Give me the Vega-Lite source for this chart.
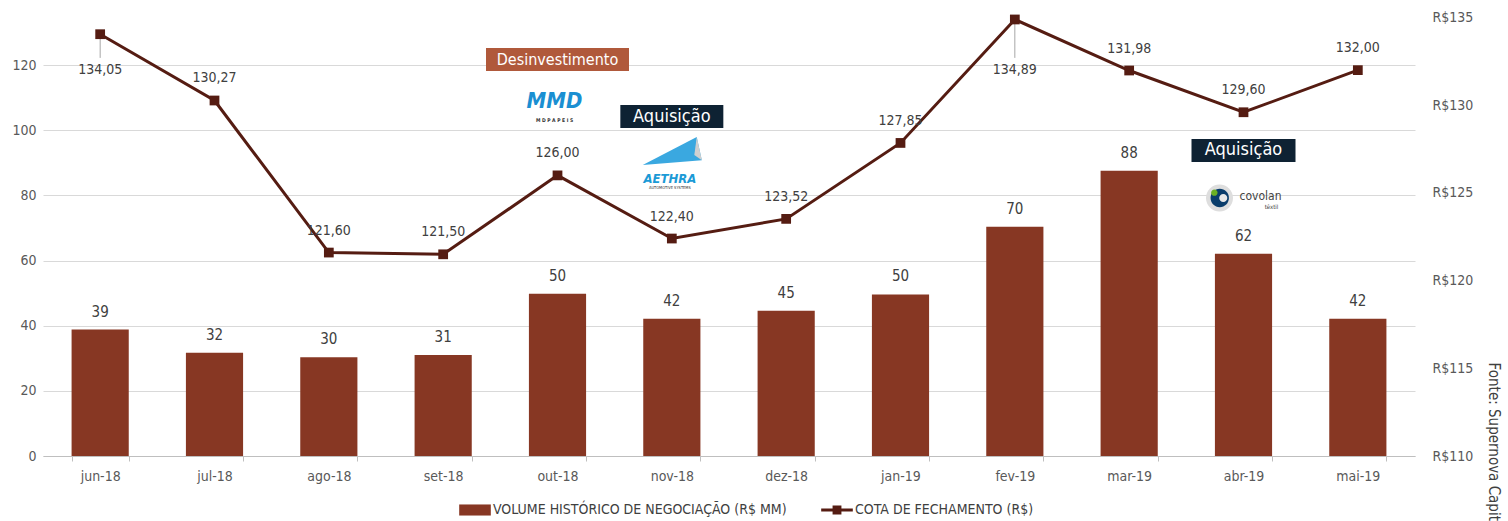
{
  "$schema": "https://vega.github.io/schema/vega-lite/v6.json",
  "width": 1372,
  "height": 456,
  "autosize": {"type": "none"},
  "padding": {"left": 43, "top": 0, "right": 93, "bottom": 65},
  "background": "white",
  "datasets": {
    "dados": [
      {"mes": "jun-18", "volume": 38.8, "cota": 134.05},
      {"mes": "jul-18", "volume": 31.7, "cota": 130.27},
      {"mes": "ago-18", "volume": 30.3, "cota": 121.60},
      {"mes": "set-18", "volume": 31.0, "cota": 121.50},
      {"mes": "out-18", "volume": 49.8, "cota": 126.00},
      {"mes": "nov-18", "volume": 42.1, "cota": 122.40},
      {"mes": "dez-18", "volume": 44.6, "cota": 123.52},
      {"mes": "jan-19", "volume": 49.6, "cota": 127.85},
      {"mes": "fev-19", "volume": 70.4, "cota": 134.89},
      {"mes": "mar-19", "volume": 87.6, "cota": 131.98},
      {"mes": "abr-19", "volume": 62.1, "cota": 129.60},
      {"mes": "mai-19", "volume": 42.1, "cota": 132.00}
    ]
  },
  "title": {
    "text": "Fonte: Supernova Capital",
    "orient": "right",
    "anchor": "end",
    "frame": "bounds",
    "fontSize": 15,
    "fontWeight": "normal",
    "color": "#404040",
    "offset": 13,
    "dx": 16
  },
  "config": {
    "font": "Liberation Sans Narrow, DejaVu Sans Condensed, sans-serif",
    "view": {"stroke": null},
    "locale": {"number": {"decimal": ",", "thousands": ".", "grouping": [3], "currency": ["R$", ""]}},
    "axisX": {"labelAngle": 0, "tickBand": "extent", "domainColor": "#bfbfbf", "tickColor": "#bfbfbf", "tickSize": 5, "labelPadding": 8, "labelFontSize": 14, "labelColor": "#595959", "grid": false},
    "axisLeft": {"domain": false, "ticks": false, "labelPadding": 7, "grid": true, "gridColor": "#d9d9d9", "labelFontSize": 14, "labelColor": "#595959"},
    "axisRight": {"domain": false, "ticks": false, "grid": false, "labelPadding": 17, "labelFontSize": 14, "labelColor": "#595959"}
  },
  "layer": [
    {
      "layer": [
        {
          "data": {"name": "dados"},
          "mark": {"type": "bar", "color": "#873723"},
          "encoding": {
            "x": {
              "field": "mes", "type": "nominal", "sort": null,
              "scale": {"domain": ["jun-18","jul-18","ago-18","set-18","out-18","nov-18","dez-18","jan-19","fev-19","mar-19","abr-19","mai-19"], "paddingInner": 0.5, "paddingOuter": 0.25},
              "axis": {"title": null}
            },
            "y": {
              "field": "volume", "type": "quantitative",
              "scale": {"domain": [0, 140], "nice": false},
              "axis": {"title": null, "orient": "left", "values": [0, 20, 40, 60, 80, 100, 120]}
            },
            "color": {
              "datum": "VOLUME HISTÓRICO DE NEGOCIAÇÃO (R$ MM)",
              "scale": {"domain": ["VOLUME HISTÓRICO DE NEGOCIAÇÃO (R$ MM)", "COTA DE FECHAMENTO (R$)"], "range": ["#873723", "#551c12"]},
              "legend": {
                "orient": "none", "legendX": 416, "legendY": 494,
                "direction": "horizontal", "title": null,
                "labelFontSize": 14, "labelColor": "#404040", "labelLimit": 0, "symbolSize": 1000,
                "columnPadding": 34, "labelOffset": 2,
                "encode": {
                  "symbols": {
                    "update": {
                      "shape": {"signal": "datum.value === 'COTA DE FECHAMENTO (R$)' ? 'M-1,-0.095H-0.28V-0.28H0.28V-0.095H1V0.095H0.28V0.28H-0.28V0.095H-1Z' : 'M-1,-0.35H1V0.35H-1Z'"},
                      "fill": {"signal": "datum.value === 'COTA DE FECHAMENTO (R$)' ? '#551c12' : '#873723'"},
                      "stroke": {"value": "transparent"},
                      "strokeWidth": {"value": 0},
                      "opacity": {"value": 1},
                      "fillOpacity": {"value": 1}
                    }
                  }
                }
              }
            }
          }
        },
        {
          "data": {"name": "dados"},
          "mark": {"type": "text", "baseline": "middle", "dy": -18, "fontSize": 15, "color": "#404040"},
          "encoding": {
            "x": {"field": "mes", "type": "nominal", "sort": null, "axis": {"title": null}},
            "y": {"field": "volume", "type": "quantitative", "axis": {"title": null, "orient": "left"}},
            "text": {"field": "volume", "type": "quantitative", "format": ".0f"}
          }
        },
        {
          "data": {"values": [{"mes": "out-18", "rotulo": "Desinvestimento"}]},
          "layer": [
            {
              "mark": {"type": "bar", "width": 143, "color": "#b0593b"},
              "encoding": {
                "x": {"field": "mes", "type": "nominal", "sort": null, "axis": {"title": null}},
                "y": {"datum": 125.3, "type": "quantitative", "axis": {"title": null, "orient": "left"}},
                "y2": {"datum": 118.2}
              }
            },
            {
              "mark": {"type": "text", "baseline": "middle", "fontSize": 16, "color": "white"},
              "encoding": {
                "x": {"field": "mes", "type": "nominal", "sort": null, "axis": {"title": null}},
                "y": {"datum": 121.7, "type": "quantitative", "axis": {"title": null, "orient": "left"}},
                "text": {"field": "rotulo"}
              }
            },
            {
              "mark": {"type": "text", "baseline": "middle", "fontSize": 22, "fontWeight": "bold", "fontStyle": "italic", "color": "#1a8fd2", "dx": -3},
              "encoding": {
                "x": {"field": "mes", "type": "nominal", "sort": null, "axis": {"title": null}},
                "y": {"datum": 109.0, "type": "quantitative", "axis": {"title": null, "orient": "left"}},
                "text": {"value": "MMD"}
              }
            },
            {
              "mark": {"type": "text", "baseline": "middle", "fontSize": 5, "fontWeight": "bold", "color": "#333333", "dx": -3},
              "encoding": {
                "x": {"field": "mes", "type": "nominal", "sort": null, "axis": {"title": null}},
                "y": {"datum": 103.3, "type": "quantitative", "axis": {"title": null, "orient": "left"}},
                "text": {"value": "M D   P A P E I S"}
              }
            }
          ]
        },
        {
          "data": {"values": [{"mes": "nov-18", "rotulo": "Aquisição"}]},
          "layer": [
            {
              "mark": {"type": "bar", "width": 103, "color": "#0e2233"},
              "encoding": {
                "x": {"field": "mes", "type": "nominal", "sort": null, "axis": {"title": null}},
                "y": {"datum": 107.8, "type": "quantitative", "axis": {"title": null, "orient": "left"}},
                "y2": {"datum": 100.7}
              }
            },
            {
              "mark": {"type": "text", "baseline": "middle", "fontSize": 18, "color": "white"},
              "encoding": {
                "x": {"field": "mes", "type": "nominal", "sort": null, "axis": {"title": null}},
                "y": {"datum": 104.2, "type": "quantitative", "axis": {"title": null, "orient": "left"}},
                "text": {"field": "rotulo"}
              }
            },
            {
              "mark": {"type": "point", "filled": true, "size": 3600, "color": "#3aa8e0", "opacity": 1, "shape": "M-0.97,0.43L0.83,-0.5L1,0.27Z"},
              "encoding": {
                "x": {"field": "mes", "type": "nominal", "sort": null, "axis": {"title": null}},
                "y": {"datum": 93.3, "type": "quantitative", "axis": {"title": null, "orient": "left"}}
              }
            },
            {
              "mark": {"type": "point", "filled": true, "size": 3600, "color": "#d0d0d0", "opacity": 1, "shape": "M0.83,-0.5L1,0.27L0.75,0.1Z"},
              "encoding": {
                "x": {"field": "mes", "type": "nominal", "sort": null, "axis": {"title": null}},
                "y": {"datum": 93.3, "type": "quantitative", "axis": {"title": null, "orient": "left"}}
              }
            },
            {
              "mark": {"type": "text", "baseline": "middle", "fontSize": 13, "fontWeight": "bold", "fontStyle": "italic", "color": "#1b9ad6", "dx": -2},
              "encoding": {
                "x": {"field": "mes", "type": "nominal", "sort": null, "axis": {"title": null}},
                "y": {"datum": 85.0, "type": "quantitative", "axis": {"title": null, "orient": "left"}},
                "text": {"value": "AETHRA"}
              }
            },
            {
              "mark": {"type": "text", "baseline": "middle", "fontSize": 4, "color": "#333333", "dx": -2},
              "encoding": {
                "x": {"field": "mes", "type": "nominal", "sort": null, "axis": {"title": null}},
                "y": {"datum": 82.2, "type": "quantitative", "axis": {"title": null, "orient": "left"}},
                "text": {"value": "AUTOMOTIVE SYSTEMS"}
              }
            }
          ]
        },
        {
          "data": {"values": [{"mes": "abr-19", "rotulo": "Aquisição"}]},
          "layer": [
            {
              "mark": {"type": "bar", "width": 104, "color": "#0e2233"},
              "encoding": {
                "x": {"field": "mes", "type": "nominal", "sort": null, "axis": {"title": null}},
                "y": {"datum": 97.3, "type": "quantitative", "axis": {"title": null, "orient": "left"}},
                "y2": {"datum": 90.3}
              }
            },
            {
              "mark": {"type": "text", "baseline": "middle", "fontSize": 18, "color": "white"},
              "encoding": {
                "x": {"field": "mes", "type": "nominal", "sort": null, "axis": {"title": null}},
                "y": {"datum": 93.8, "type": "quantitative", "axis": {"title": null, "orient": "left"}},
                "text": {"field": "rotulo"}
              }
            },
            {
              "mark": {"type": "point", "filled": true, "size": 2916, "color": "#dedede", "opacity": 1, "shape": "M-1.389,0A0.5,0.5 0 1,0 -0.389,0A0.5,0.5 0 1,0 -1.389,0Z"},
              "encoding": {
                "x": {"field": "mes", "type": "nominal", "sort": null, "axis": {"title": null}},
                "y": {"datum": 79.2, "type": "quantitative", "axis": {"title": null, "orient": "left"}}
              }
            },
            {
              "mark": {"type": "point", "filled": true, "size": 2916, "color": "#0a3d6b", "opacity": 1, "shape": "M-1.22,0A0.34,0.34 0 1,0 -0.54,0A0.34,0.34 0 1,0 -1.22,0Z"},
              "encoding": {
                "x": {"field": "mes", "type": "nominal", "sort": null, "axis": {"title": null}},
                "y": {"datum": 79.2, "type": "quantitative", "axis": {"title": null, "orient": "left"}}
              }
            },
            {
              "mark": {"type": "point", "filled": true, "size": 2916, "color": "#e8e8e8", "opacity": 1, "shape": "M-0.9,0A0.15,0.15 0 1,0 -0.6,0A0.15,0.15 0 1,0 -0.9,0Z"},
              "encoding": {
                "x": {"field": "mes", "type": "nominal", "sort": null, "axis": {"title": null}},
                "y": {"datum": 79.2, "type": "quantitative", "axis": {"title": null, "orient": "left"}}
              }
            },
            {
              "mark": {"type": "point", "filled": true, "size": 2916, "color": "#6ab023", "opacity": 1, "shape": "M-1.2,-0.2A0.12,0.12 0 1,0 -0.96,-0.2A0.12,0.12 0 1,0 -1.2,-0.2Z"},
              "encoding": {
                "x": {"field": "mes", "type": "nominal", "sort": null, "axis": {"title": null}},
                "y": {"datum": 79.2, "type": "quantitative", "axis": {"title": null, "orient": "left"}}
              }
            },
            {
              "mark": {"type": "text", "baseline": "middle", "fontSize": 12, "color": "#444444", "dx": 17},
              "encoding": {
                "x": {"field": "mes", "type": "nominal", "sort": null, "axis": {"title": null}},
                "y": {"datum": 79.8, "type": "quantitative", "axis": {"title": null, "orient": "left"}},
                "text": {"value": "covolan"}
              }
            },
            {
              "mark": {"type": "text", "baseline": "middle", "fontSize": 6, "color": "#444444", "dx": 28},
              "encoding": {
                "x": {"field": "mes", "type": "nominal", "sort": null, "axis": {"title": null}},
                "y": {"datum": 76.6, "type": "quantitative", "axis": {"title": null, "orient": "left"}},
                "text": {"value": "têxtil"}
              }
            }
          ]
        }
      ]
    },
    {
      "data": {"name": "dados"},
      "layer": [
        {
          "transform": [{"filter": {"field": "mes", "oneOf": ["jun-18", "fev-19"]}}],
          "mark": {"type": "rule", "color": "#a6a6a6", "strokeWidth": 1},
          "encoding": {
            "x": {"field": "mes", "type": "nominal", "sort": null, "axis": {"title": null}},
            "y": {"field": "cota", "type": "quantitative", "axis": {"title": null, "orient": "right"}},
            "y2": {"datum": 132.7}
          }
        },
        {
          "mark": {"type": "line", "strokeWidth": 3},
          "encoding": {
            "x": {"field": "mes", "type": "nominal", "sort": null, "axis": {"title": null}},
            "y": {
              "field": "cota", "type": "quantitative",
              "scale": {"domain": [110, 136], "nice": false, "zero": false},
              "axis": {"title": null, "orient": "right", "values": [110, 115, 120, 125, 130, 135], "labelExpr": "'R$' + datum.value"}
            },
            "color": {"datum": "COTA DE FECHAMENTO (R$)"}
          }
        },
        {
          "mark": {"type": "point", "shape": "square", "filled": true, "size": 95, "opacity": 1},
          "encoding": {
            "x": {"field": "mes", "type": "nominal", "sort": null, "axis": {"title": null}},
            "y": {"field": "cota", "type": "quantitative", "axis": {"title": null, "orient": "right"}},
            "color": {"datum": "COTA DE FECHAMENTO (R$)"}
          }
        },
        {
          "transform": [{"filter": {"not": {"field": "mes", "oneOf": ["jun-18", "fev-19"]}}}],
          "mark": {"type": "text", "baseline": "middle", "dy": -22, "fontSize": 14, "color": "#404040"},
          "encoding": {
            "x": {"field": "mes", "type": "nominal", "sort": null, "axis": {"title": null}},
            "y": {"field": "cota", "type": "quantitative", "axis": {"title": null, "orient": "right"}},
            "text": {"field": "cota", "type": "quantitative", "format": ".2f"}
          }
        },
        {
          "transform": [{"filter": {"field": "mes", "oneOf": ["jun-18", "fev-19"]}}],
          "mark": {"type": "text", "baseline": "middle", "fontSize": 14, "color": "#404040"},
          "encoding": {
            "x": {"field": "mes", "type": "nominal", "sort": null, "axis": {"title": null}},
            "y": {"datum": 132.0, "type": "quantitative", "axis": {"title": null, "orient": "right"}},
            "text": {"field": "cota", "type": "quantitative", "format": ".2f"}
          }
        }
      ]
    }
  ],
  "resolve": {"scale": {"y": "independent"}}
}
